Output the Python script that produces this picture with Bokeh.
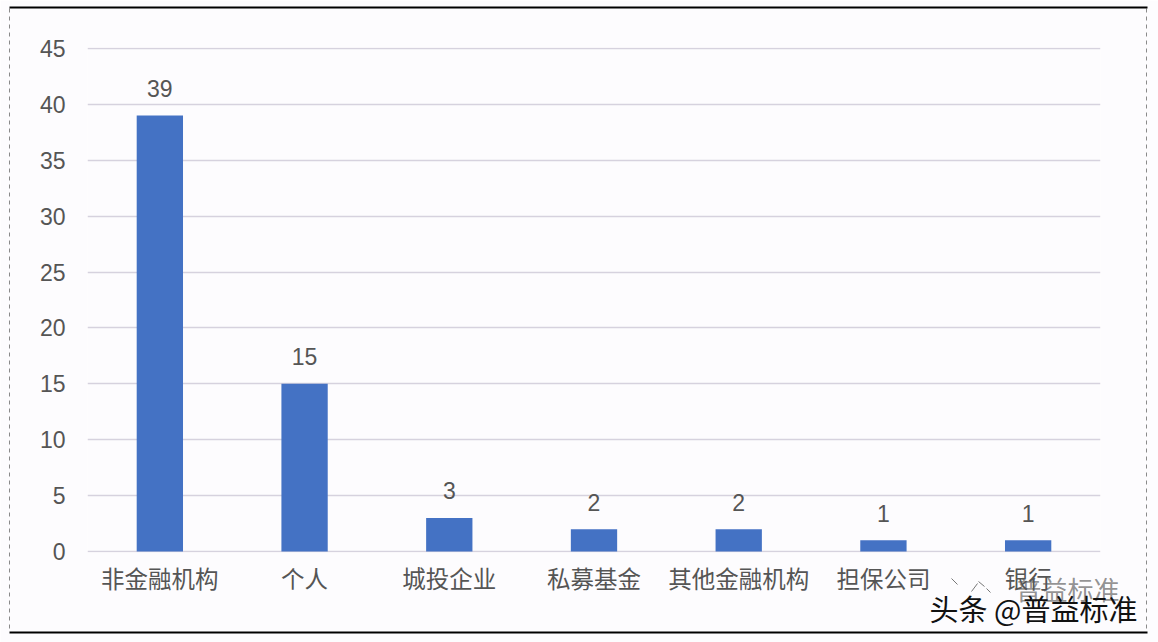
from bokeh.plotting import figure
from bokeh.models import ColumnDataSource, Range1d, Label, FixedTicker
from bokeh.core.properties import value
from bokeh.embed import file_html
from bokeh.resources import INLINE

categories = ["非金融机构", "个人", "城投企业", "私募基金", "其他金融机构", "担保公司", "银行"]
counts = [39, 15, 3, 2, 2, 1, 1]
y_ticks = [0, 5, 10, 15, 20, 25, 30, 35, 40, 45]
watermark = "头条 @普益标准"
ghost = "普益标准"

FONT = "Liberation Sans, Noto Sans CJK SC"
CJK = "Noto Sans CJK SC"
TXT = "#555555"
GRID = "#d6d2de"
W, H = 1158, 642
positions = list(range(len(categories)))

p = figure(x_range=Range1d(-0.5, 6.5), y_range=Range1d(-0.09, 45.09), width=W, height=H,
           output_backend="svg", toolbar_location=None,
           min_border_left=87, min_border_right=58, min_border_top=47, min_border_bottom=90,
           background_fill_color="#fdfcfe", border_fill_color="#fdfcfe", outline_line_color=None)

src = ColumnDataSource(dict(pos=positions, n=counts, lab=[str(c) for c in counts]))
p.vbar(x="pos", top="n", width=0.32, bottom=0, source=src, fill_color="#4472c4", line_color=None)
p.text(x="pos", y="n", text="lab", source=src, text_align="center", text_baseline="alphabetic",
       y_offset=-27, text_font=value(FONT), text_font_size="23px", text_color=TXT)

p.xgrid.grid_line_color = None
p.ygrid.grid_line_color = GRID
p.ygrid.grid_line_width = 1.3
p.yaxis.ticker = FixedTicker(ticks=y_ticks)
p.yaxis.axis_line_color = None
p.yaxis.major_tick_line_color = None
p.yaxis.minor_tick_line_color = None
p.yaxis.major_tick_out = 0
p.yaxis.major_label_standoff = 22
p.yaxis.major_label_text_font = FONT
p.yaxis.major_label_text_font_size = "23px"
p.yaxis.major_label_text_color = TXT
p.xaxis.ticker = FixedTicker(ticks=positions)
p.xaxis.major_label_overrides = dict(zip(positions, categories))
p.xaxis.axis_line_color = None
p.xaxis.major_tick_line_color = None
p.xaxis.minor_tick_line_color = None
p.xaxis.major_tick_out = 0
p.xaxis.major_label_standoff = 14
p.xaxis.major_label_text_font = FONT
p.xaxis.major_label_text_font_size = "23.5px"
p.xaxis.major_label_text_color = TXT

# transparent overlay whose frame fills the whole page: slide border and watermark
o = figure(x_range=Range1d(0, W), y_range=Range1d(H, 0), width=W, height=H,
           output_backend="svg", toolbar_location=None, x_axis_location=None, y_axis_location=None,
           min_border=0, background_fill_alpha=0, border_fill_alpha=0, outline_line_color=None,
           styles={"position": "absolute", "top": "0px", "left": "0px"})
o.grid.visible = False

o.segment(x0=[9, 1146], y0=[8, 8], x1=[9, 1146], y1=[632, 632],
          line_color="#8a8a8a", line_dash="4 4", line_width=1)
o.segment(x0=[9, 9], y0=[7, 632], x1=[1147, 1147], y1=[7, 632],
          line_color="#000000", line_width=2)
# faint sparkle of the watermark's logo
o.segment(x0=[951, 971, 978, 986], y0=[578, 591, 581, 588], x1=[957, 977, 984, 990], y1=[584, 583, 586, 592],
          line_color="#777777", line_width=1)

o.add_layout(Label(x=1015, y=588, text=ghost, text_font=CJK, text_font_size="26px",
                   text_color="#555555", text_alpha=0.65, text_baseline="middle"))
o.add_layout(Label(x=929, y=607, text=watermark, text_font=CJK, text_font_size="29px",
                   text_color="#111111", text_baseline="middle"))

open("out.html", "w").write(file_html((p, o), INLINE))
